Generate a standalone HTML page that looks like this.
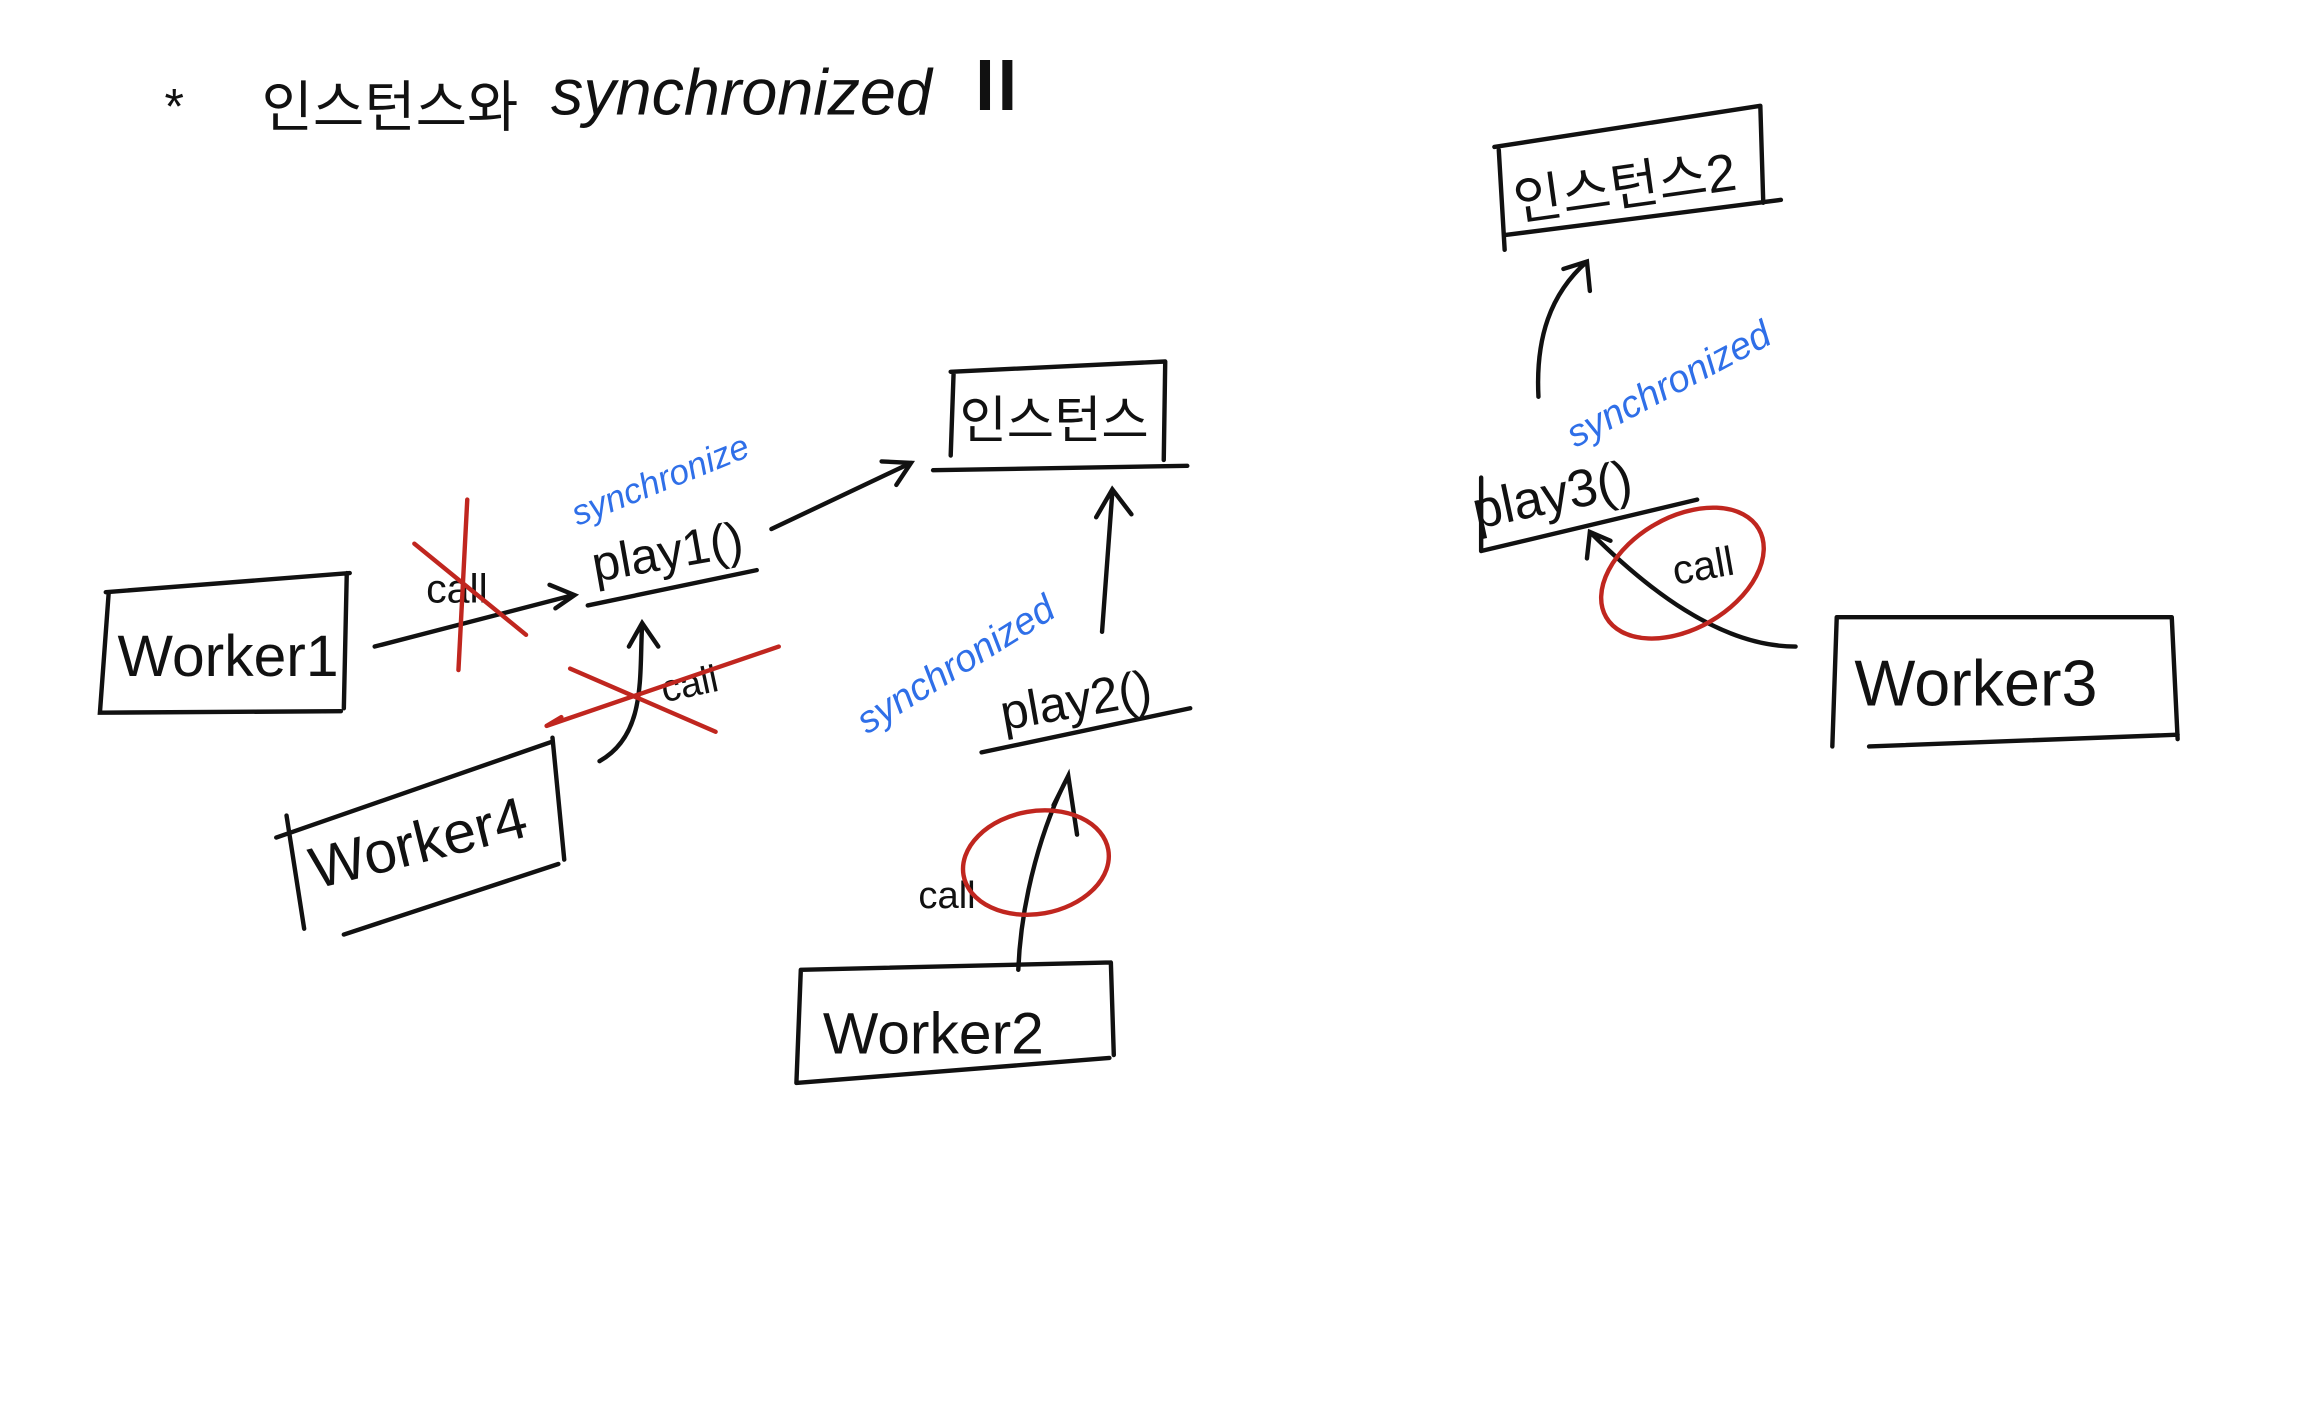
<!DOCTYPE html>
<html><head><meta charset="utf-8"><style>
html,body{margin:0;padding:0;background:#fff;}
svg{display:block}
text{font-family:"Liberation Sans","Noto Sans CJK KR",sans-serif;}
</style></head><body>
<svg width="2304" height="1418" viewBox="0 0 1568 965" xmlns="http://www.w3.org/2000/svg">
<rect width="1568" height="965" fill="#fff"/>
<g fill="none" stroke="#111" stroke-width="3" stroke-linecap="round">
<!-- title -->
<text x="112" y="84" font-size="34" fill="#111" stroke="none">*</text>
<text x="178" y="86" font-size="38" fill="#111" stroke="none">인스턴스와</text>
<text x="375" y="78" font-size="44" fill="#111" stroke="none" font-style="italic">synchronized</text>
<text x="655" y="75" font-size="46" fill="#111" stroke="none" font-family="Liberation Serif" font-weight="bold">Ⅱ</text>

<!-- Worker1 -->
<path d="M72 403 L238 390 M74 403 L68 485 L232 484 M236 390 L234 482"/>
<text x="80" y="460" font-size="40" fill="#111" stroke="none">Worker1</text>
<path d="M255 440 L390 405 M374 398 L391 405 L378 414"/>
<text x="290" y="410" font-size="28" fill="#111" stroke="none">call</text>
<path d="M282 370 L358 432 M318 340 L312 456" stroke="#c0261f"/>
<text x="405" y="396" font-size="34" fill="#111" stroke="none" transform="rotate(-10 405 396)">play1()</text>
<path d="M400 412 L515 388"/>
<text x="393" y="358" font-size="24" fill="#2f6fe8" stroke="none" font-style="italic" transform="rotate(-22 393 358)">synchronize</text>
<path d="M525 360 L620 315 M600 314 L620 315 L610 330"/>

<!-- instance 1 -->
<path d="M647 253 L793 246 M649 253 L647 310 M793 246 L792 313 M635 320 L808 317"/>
<text x="653" y="298" font-size="35" fill="#111" stroke="none">인스턴스</text>

<!-- Worker4 -->
<path d="M188 570 L375 505 M195 555 L207 632 M376 502 L384 585 M234 636 L380 588"/>
<text x="215" y="605" font-size="40" fill="#111" stroke="none" transform="rotate(-14 215 605)">Worker4</text>
<path d="M408 518 C440 500 435 460 437 425 M428 440 L437 424 L448 440"/>
<text x="452" y="478" font-size="26" fill="#111" stroke="none" transform="rotate(-12 452 478)">call</text>
<path d="M372 494 L530 440 M388 455 L487 498 M372 494 L382 488" stroke="#c0261f"/>

<!-- play2 -->
<text x="683" y="497" font-size="34" fill="#111" stroke="none" transform="rotate(-10 683 497)">play2()</text>
<path d="M668 512 L810 482"/>
<text x="590" y="500" font-size="26" fill="#2f6fe8" stroke="none" font-style="italic" transform="rotate(-32 590 500)">synchronized</text>
<path d="M750 430 L757 335 M746 352 L757 333 L770 350"/>

<!-- Worker2 -->
<path d="M545 660 L756 655 M545 660 L542 737 M756 655 L758 718 M542 737 L755 720"/>
<text x="560" y="717" font-size="40" fill="#111" stroke="none">Worker2</text>
<path d="M693 660 C695 610 710 560 727 528 M717 548 L727 528 L733 568"/>
<text x="625" y="618" font-size="26" fill="#111" stroke="none">call</text>
<ellipse cx="705" cy="587" rx="50" ry="35" transform="rotate(-10 705 587)" stroke="#c0261f"/>

<!-- instance 2 -->
<path d="M1017 100 L1198 72 M1020 102 L1024 170 M1198 72 L1200 138 M1024 160 L1212 136"/>
<text x="1032" y="150" font-size="36" fill="#111" stroke="none" transform="rotate(-8 1032 150)">인스턴스2</text>
<path d="M1047 270 C1045 230 1055 200 1080 178 M1064 183 L1080 178 L1082 198"/>

<!-- play3 -->
<text x="1005" y="360" font-size="36" fill="#111" stroke="none" transform="rotate(-12 1005 360)">play3()</text>
<path d="M1008 375 L1155 340 M1008 325 L1008 375"/>
<text x="1072" y="305" font-size="26" fill="#2f6fe8" stroke="none" font-style="italic" transform="rotate(-28 1072 305)">synchronized</text>

<!-- Worker3 -->
<path d="M1250 420 L1478 420 M1250 420 L1247 508 M1478 420 L1482 503 M1272 508 L1482 500"/>
<text x="1262" y="480" font-size="44" fill="#111" stroke="none">Worker3</text>
<path d="M1222 440 C1170 440 1120 400 1082 362 M1080 380 L1082 362 L1096 368"/>
<text x="1140" y="398" font-size="28" fill="#111" stroke="none" transform="rotate(-10 1140 398)">call</text>
<ellipse cx="1145" cy="390" rx="60" ry="38" transform="rotate(-30 1145 390)" stroke="#c0261f"/>
</g>
</svg>
</body></html>
